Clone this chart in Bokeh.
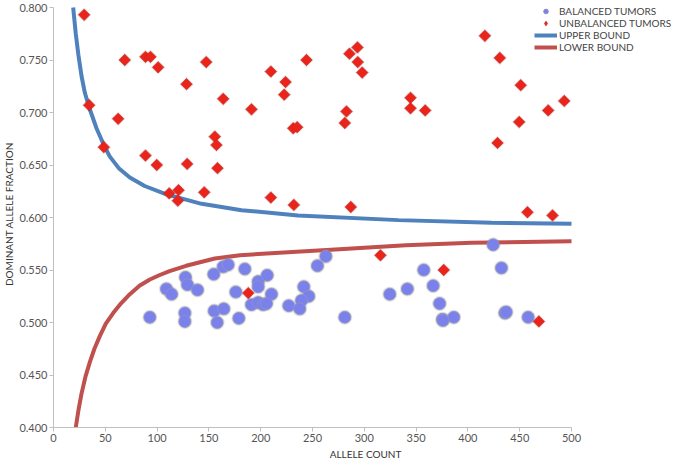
import numpy as np
from bokeh.plotting import figure
from bokeh.models import Legend, LegendItem, Range1d, FixedTicker, PrintfTickFormatter, ColumnDataSource
from bokeh.embed import file_html
from bokeh.resources import INLINE

# ---------------- data ----------------
x_ticks = [0, 50, 100, 150, 200, 250, 300, 350, 400, 450, 500]
y_ticks = [0.400, 0.450, 0.500, 0.550, 0.600, 0.650, 0.700, 0.750, 0.800]

unbal_count = [29.6, 68.8, 88.8, 93.6, 101, 147.4, 128.4, 163.8, 34.4, 62.4,
               48.6, 88.8, 99.7, 129, 155.7, 157.3, 158.3, 111.7, 120.7, 120,
               145.5, 416.4, 293.4, 285.7, 293.7, 298, 244.2, 209.8, 224, 222.7,
               191.1, 282.8, 281.2, 344.6, 344.6, 358.8, 231.4, 235.2, 209.8, 232,
               287, 430.8, 451, 493, 477.5, 449.5, 428.6, 457.5, 481.7, 188,
               315.6, 376.7, 468.5]
unbal_frac = [0.793, 0.750, 0.753, 0.753, 0.743, 0.748, 0.727, 0.713, 0.707, 0.694,
              0.667, 0.659, 0.650, 0.651, 0.677, 0.669, 0.647, 0.623, 0.626, 0.616,
              0.624, 0.773, 0.762, 0.756, 0.748, 0.738, 0.750, 0.739, 0.729, 0.717,
              0.703, 0.701, 0.690, 0.714, 0.704, 0.702, 0.685, 0.686, 0.619, 0.612,
              0.610, 0.752, 0.726, 0.711, 0.702, 0.691, 0.671, 0.605, 0.602, 0.528,
              0.564, 0.550, 0.501]

bal_count = [93, 109, 114, 127.4, 129.3, 139, 126.8, 126.8, 154.7, 163.8,
             168.6, 184.7, 155.1, 164.4, 158, 178.9, 176, 197.6, 206.3, 197.6,
             210.4, 191.1, 197.6, 202.4, 205.6, 262.9, 254.8, 241.6, 246.4, 239.4,
             227.1, 237.7, 281.2, 324.6, 341.6, 357.4, 366.5, 372.7, 375.5, 386.4,
             424.4, 432.4, 435.7, 437, 458.2, 376]
bal_frac = [0.505, 0.532, 0.527, 0.543, 0.536, 0.531, 0.509, 0.501, 0.546, 0.553,
            0.555, 0.551, 0.511, 0.513, 0.500, 0.504, 0.529, 0.539, 0.545, 0.534,
            0.527, 0.517, 0.519, 0.517, 0.518, 0.563, 0.554, 0.534, 0.525, 0.521,
            0.516, 0.513, 0.505, 0.527, 0.532, 0.550, 0.535, 0.518, 0.503, 0.505,
            0.574, 0.552, 0.509, 0.510, 0.505, 0.502]

upper_count = [19, 21.5, 24, 27, 30.2, 34.4, 41.5, 48.6, 54.4, 63, 73.7, 88,
               109, 143, 181.5, 236, 333, 423, 500]
upper_frac = [0.800, 0.775, 0.755, 0.735, 0.719, 0.705, 0.685, 0.669, 0.658, 0.647,
              0.638, 0.630, 0.622, 0.613, 0.607, 0.602, 0.5975, 0.595, 0.594]

lower_count = [21.5, 24, 27, 31, 35, 39.5, 44.7, 50.5, 57.6, 65, 73.7, 83,
               93, 102, 112, 128, 155.7, 180, 210, 280, 340, 403.5, 500]
lower_frac = [0.400, 0.416, 0.432, 0.449, 0.462, 0.475, 0.487, 0.499, 0.509,
              0.518, 0.527, 0.535, 0.541, 0.545, 0.549, 0.554, 0.561, 0.564, 0.566,
              0.570, 0.5735, 0.576, 0.5774]

legend_labels = ["BALANCED TUMORS", "UNBALANCED TUMORS", "UPPER BOUND", "LOWER BOUND"]
x_title = "ALLELE COUNT"
y_title = "DOMINANT ALLELE FRACTION"

# ---------------- figure ----------------
FONT = "Lato"
X0, X1 = 0, 500
Y0, Y1 = 0.4, 0.8
AXIS_W, AXIS_H = 518, 420          # pixel extent of the 0-500 / 0.4-0.8 axes
FRAME_W, FRAME_H = 624, 427        # frame extends right/up to hold the legend

p = figure(frame_width=FRAME_W, frame_height=FRAME_H,
           min_border_left=44, min_border_right=0, min_border_top=0, min_border_bottom=30,
           x_range=Range1d(X0, X0 + (X1 - X0) * FRAME_W / AXIS_W),
           y_range=Range1d(Y0, Y0 + (Y1 - Y0) * FRAME_H / AXIS_H),
           output_backend="svg", toolbar_location=None)
p.outline_line_color = None
p.xgrid.visible = False
p.ygrid.visible = False
p.background_fill_color = "white"
p.border_fill_color = "white"

for ax in (p.xaxis[0], p.yaxis[0]):
    ax.axis_line_color = "#c0c0c0"
    ax.major_tick_line_color = "#c0c0c0"
    ax.minor_tick_line_color = None
    ax.major_label_text_font = FONT
    ax.major_label_text_font_size = "11px"
    ax.major_label_text_color = "#555555"
    ax.axis_label_text_font = FONT
    ax.axis_label_text_font_size = "10px"
    ax.axis_label_text_font_style = "normal"
    ax.axis_label_text_color = "#333333"
    ax.major_tick_out = 4
    ax.major_tick_in = 0
    ax.major_label_standoff = 2
    ax.axis_label_standoff = 1

p.xaxis.axis_label_standoff = 3
p.xaxis.bounds = (X0, X1)
p.yaxis.bounds = (Y0, Y1)
p.xaxis.ticker = FixedTicker(ticks=x_ticks)
p.yaxis.ticker = FixedTicker(ticks=y_ticks)
p.yaxis.formatter = PrintfTickFormatter(format="%.3f")
p.xaxis.formatter = PrintfTickFormatter(format="%d")
p.xaxis.axis_label = x_title
p.yaxis.axis_label = y_title

bal_src = ColumnDataSource(dict(x=bal_count, y=bal_frac))
unbal_src = ColumnDataSource(dict(x=unbal_count, y=unbal_frac))
unbal_first = ColumnDataSource(dict(x=unbal_count[:1], y=unbal_frac[:1]))

r_up = p.line(upper_count, upper_frac, line_color="#4f81bd", line_width=4)
r_lo = p.line(lower_count, lower_frac, line_color="#c0504d", line_width=4)

# soft shadows
p.scatter("x", "y", source=bal_src, marker="circle", size=15,
          fill_color="#8a8a70", fill_alpha=0.25, line_color=None)
p.scatter("x", "y", source=unbal_src, marker="square", angle=np.pi / 4, size=10,
          fill_color="#7a3a30", fill_alpha=0.2, line_color=None)

# legend glyph for the diamonds (sits beneath the first real diamond)
r_unb_leg = p.scatter("x", "y", source=unbal_first, marker="diamond", size=8,
                      fill_color="#ea231b", line_color="#d22018", line_width=0.6)

r_bal = p.scatter("x", "y", source=bal_src, marker="circle", size=12,
                  fill_color="#7b81ea", line_color="#8f93c8", line_width=0.8)
p.scatter("x", "y", source=unbal_src, marker="square", angle=np.pi / 4, size=8,
          fill_color="#ea231b", line_color="#d22018", line_width=0.6)

legend = Legend(items=[
    LegendItem(label=legend_labels[0], renderers=[r_bal]),
    LegendItem(label=legend_labels[1], renderers=[r_unb_leg]),
    LegendItem(label=legend_labels[2], renderers=[r_up]),
    LegendItem(label=legend_labels[3], renderers=[r_lo]),
], location=(481, FRAME_H - 53))
legend.padding = 0
legend.margin = 0
legend.spacing = 0
legend.glyph_width = 23
legend.glyph_height = 12
legend.label_height = 12
legend.label_standoff = 2
legend.label_text_font = FONT
legend.label_text_font_size = "10px"
legend.label_text_color = "#444444"
legend.label_text_baseline = "middle"
legend.border_line_alpha = 0
legend.background_fill_alpha = 0
p.add_layout(legend, "center")

open("out.html", "w").write(file_html(p, INLINE))
